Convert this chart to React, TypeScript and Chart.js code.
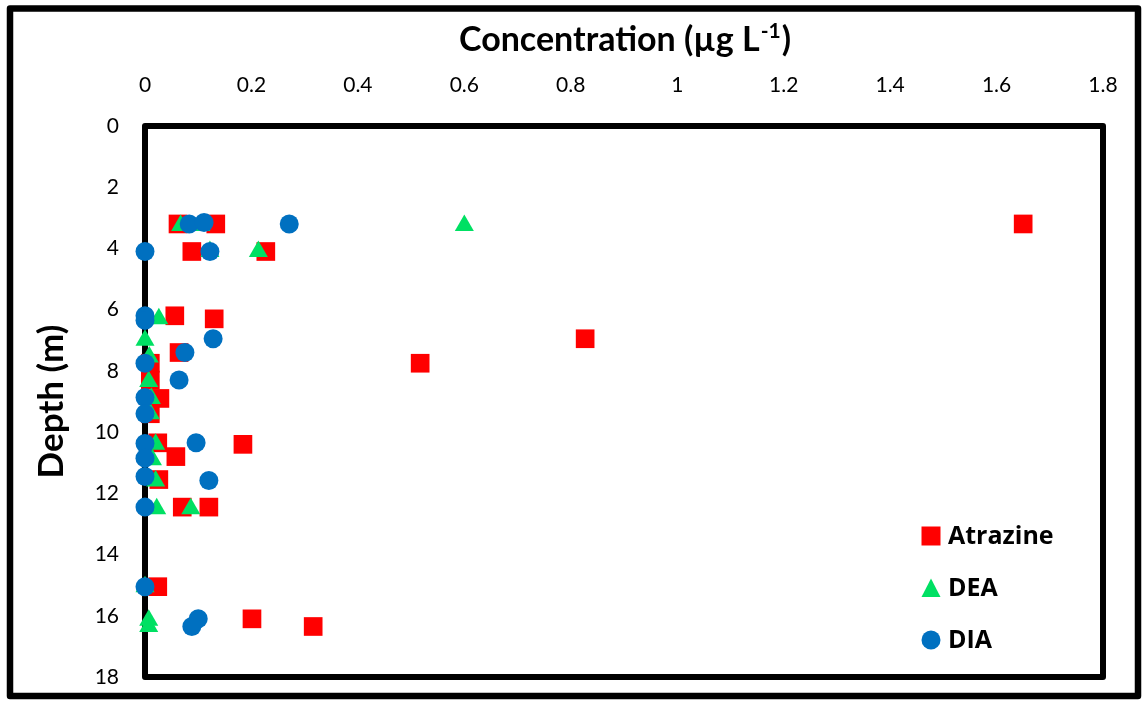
import React, { useEffect, useRef } from "react";
import { Chart, registerables } from "chart.js";

Chart.register(...registerables);

// Atrazine
const atrazineDepth = [3.2, 3.2, 3.2, 4.1, 4.1, 6.2, 6.3, 6.95, 7.4, 7.75, 7.75, 8.3, 8.9, 9.4, 10.35, 10.4, 10.8, 11.55, 12.45, 12.45, 15.05, 16.1, 16.35];
const atrazineConc = [0.062, 0.133, 1.65, 0.088, 0.227, 0.056, 0.13, 0.827, 0.064, 0.517, 0.01, 0.01, 0.028, 0.01, 0.024, 0.184, 0.058, 0.026, 0.07, 0.12, 0.024, 0.201, 0.316];

// DEA
const deaDepth = [3.25, 3.25, 3.25, 4.1, 4.1, 6.3, 7.0, 7.55, 8.35, 8.9, 9.4, 10.4, 10.9, 11.6, 12.5, 12.5, 15.05, 16.15, 16.35];
const deaConc = [0.067, 0.105, 0.6, 0.122, 0.213, 0.026, 0.0, 0.008, 0.007, 0.012, 0.01, 0.02, 0.014, 0.02, 0.022, 0.086, 0.0, 0.007, 0.007];

// DIA
const diaDepth = [3.2, 3.15, 3.2, 4.1, 4.1, 6.2, 6.35, 6.95, 7.4, 7.75, 8.3, 8.87, 9.4, 10.37, 10.35, 10.85, 11.45, 11.58, 12.45, 15.05, 16.1, 16.35];
const diaConc = [0.083, 0.111, 0.271, 0.0, 0.122, 0.0, 0.0, 0.128, 0.075, 0.0, 0.064, 0.0, 0.0, 0.0, 0.096, 0.0, 0.0, 0.12, 0.0, 0.0, 0.1, 0.088];

const seriesNames = ["Atrazine", "DEA", "DIA"];
const seriesColors = ["#FF0000", "#00E063", "#0070C0"];
const xTitle = "Concentration (µg L";
const xTitleSup = "-1";
const yTitle = "Depth (m)";

const toPoints = (xs: number[], ys: number[]) => xs.map((x, i) => ({ x, y: ys[i] }));

const framePlugin = {
  id: "frame",
  beforeDraw(chart: any) {
    const { ctx, width, height } = chart;
    ctx.save();
    ctx.fillStyle = "#ffffff";
    ctx.fillRect(0, 0, width, height);
    ctx.restore();
  },
  beforeDatasetsDraw(chart: any) {
    const { ctx, chartArea } = chart;
    ctx.save();
    ctx.strokeStyle = "#000000";
    ctx.lineWidth = 6;
    ctx.lineJoin = "round";
    ctx.strokeRect(chartArea.left, chartArea.top, chartArea.right - chartArea.left, chartArea.bottom - chartArea.top);
    ctx.restore();
  },
  afterDraw(chart: any) {
    const { ctx, chartArea } = chart;
    ctx.save();
    // outer border
    ctx.strokeStyle = "#000000";
    ctx.lineWidth = 6.5;
    ctx.lineJoin = "round";
    ctx.strokeRect(10, 8.5, 1128, 687.5);

    // x title with superscript
    ctx.fillStyle = "#000000";
    ctx.textBaseline = "alphabetic";
    const mainFont = "bold 34px Lato";
    const supFont = "bold 21px Lato";
    ctx.font = mainFont;
    const w1 = ctx.measureText(xTitle).width;
    const w3 = ctx.measureText(")").width;
    ctx.font = supFont;
    const w2 = ctx.measureText(xTitleSup).width;
    const total = w1 + w2 + w3;
    const cx = (chartArea.left + chartArea.right) / 2;
    const x0 = cx - total / 2;
    const base = 51;
    ctx.font = mainFont;
    ctx.textAlign = "left";
    ctx.fillText(xTitle, x0, base);
    ctx.font = supFont;
    ctx.fillText(xTitleSup, x0 + w1 + 1, base - 13);
    ctx.font = mainFont;
    ctx.fillText(")", x0 + w1 + w2 + 2, base);

    // y title
    ctx.save();
    ctx.translate(52, (chartArea.top + chartArea.bottom) / 2);
    ctx.rotate(-Math.PI / 2);
    ctx.font = "bold 35px Lato";
    ctx.textAlign = "center";
    ctx.textBaseline = "middle";
    ctx.fillText(yTitle, 0, 0);
    ctx.restore();

    // legend
    const lx = 931;
    const lys = [536, 588, 640];
    seriesNames.forEach((name, i) => {
      const y = lys[i];
      ctx.fillStyle = seriesColors[i];
      ctx.beginPath();
      if (i === 0) {
        ctx.rect(lx - 9.5, y - 9.5, 19, 19);
      } else if (i === 1) {
        ctx.moveTo(lx, y - 9.5);
        ctx.lineTo(lx + 9.5, y + 9);
        ctx.lineTo(lx - 9.5, y + 9);
        ctx.closePath();
      } else {
        ctx.arc(lx, y, 9.5, 0, Math.PI * 2);
      }
      ctx.fill();
      ctx.fillStyle = "#000000";
      ctx.font = "bold 25px 'Open Sans'";
      ctx.textAlign = "left";
      ctx.textBaseline = "middle";
      ctx.fillText(name, 948, y + 1);
    });
    ctx.restore();
  },
};

export default function App() {
  const ref = useRef<HTMLCanvasElement | null>(null);

  useEffect(() => {
    document.body.style.margin = "0";
    const canvas = ref.current;
    if (!canvas) return;
    const chart = new Chart(canvas, {
      type: "scatter",
      data: {
        datasets: [
          {
            label: seriesNames[0],
            data: toPoints(atrazineConc, atrazineDepth),
            pointStyle: "rect",
            pointRadius: 13.2,
            backgroundColor: seriesColors[0],
            borderWidth: 0,
            clip: false,
            order: 3,
          },
          {
            label: seriesNames[1],
            data: toPoints(deaConc, deaDepth),
            pointStyle: "triangle",
            pointRadius: 11,
            backgroundColor: seriesColors[1],
            borderWidth: 0,
            clip: false,
            order: 2,
          },
          {
            label: seriesNames[2],
            data: toPoints(diaConc, diaDepth),
            pointStyle: "circle",
            pointRadius: 9.5,
            backgroundColor: seriesColors[2],
            borderWidth: 0,
            clip: false,
            order: 1,
          },
        ],
      },
      options: {
        animation: false,
        responsive: false,
        layout: { padding: { left: 0, top: 0, right: 40, bottom: 24 } },
        plugins: {
          legend: { display: false },
          tooltip: { enabled: false },
          title: { display: false },
        },
        scales: {
          x: {
            type: "linear",
            position: "top",
            min: 0,
            max: 1.8,
            grid: { display: false, drawTicks: false },
            border: { display: false },
            ticks: {
              stepSize: 0.2,
              padding: 28,
              color: "#000000",
              font: { family: "Lato", size: 21 },
              callback: (v: any) => String(Number(Number(v).toFixed(1))),
            },
            afterFit: (s: any) => {
              s.height = 126;
              s.paddingLeft = 0;
              s.paddingRight = 0;
            },
          },
          y: {
            type: "linear",
            reverse: true,
            min: 0,
            max: 18,
            grid: { display: false, drawTicks: false },
            border: { display: false },
            ticks: {
              stepSize: 2,
              padding: 26,
              color: "#000000",
              font: { family: "Lato", size: 21 },
            },
            afterFit: (s: any) => {
              s.width = 145;
              s.paddingTop = 0;
              s.paddingBottom = 0;
            },
          },
        },
      },
      plugins: [framePlugin],
    });
    return () => chart.destroy();
  }, []);

  return (
    <div style={{ position: "absolute", left: 0, top: 0, width: 1143, height: 701 }}>
      <canvas ref={ref} width={1143} height={701} style={{ display: "block" }} />
    </div>
  );
}
